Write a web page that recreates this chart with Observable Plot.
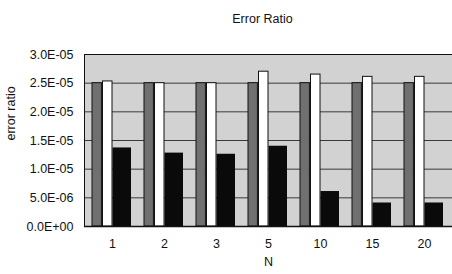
<!DOCTYPE html>
<html>
<head>
<meta charset="utf-8">
<script src="https://cdn.jsdelivr.net/npm/d3@7"></script>
<script src="https://cdn.jsdelivr.net/npm/@observablehq/plot@0.6"></script>
<style>
  body { margin: 0; background: #fff; }
  svg { display: block; }
</style>
</head>
<body>
<div id="chart"></div>
<script>
const title = "Error Ratio";
const xLabel = "N";
const yLabel = "error ratio";
const categories = ["1", "2", "3", "5", "10", "15", "20"];
const seriesGrey  = [2.5e-5, 2.5e-5, 2.5e-5, 2.5e-5, 2.5e-5, 2.5e-5, 2.5e-5];
const seriesWhite = [2.53e-5, 2.5e-5, 2.5e-5, 2.7e-5, 2.65e-5, 2.61e-5, 2.61e-5];
const seriesBlack = [1.37e-5, 1.28e-5, 1.26e-5, 1.40e-5, 6.1e-6, 4.1e-6, 4.1e-6];
const yTicks = [0, 5e-6, 1e-5, 1.5e-5, 2e-5, 2.5e-5, 3e-5];

const rows = categories.map((n, i) => ({n, grey: seriesGrey[i], white: seriesWhite[i], black: seriesBlack[i]}));

function sci(d) {
  if (d === 0) return "0.0E+00";
  const e = Math.floor(Math.log10(Math.abs(d)) + 1e-9);
  const m = d / Math.pow(10, e);
  const s = e < 0 ? "-" : "+";
  return m.toFixed(1) + "E" + s + String(Math.abs(e)).padStart(2, "0");
}

const font = "Liberation Sans, Arial, sans-serif";

const chart = Plot.plot({
  width: 452,
  height: 274,
  marginLeft: 84,
  marginRight: 0,
  marginTop: 54,
  marginBottom: 48,
  style: {fontFamily: font, fontSize: "12.5px", color: "#111", background: "#fff"},
  x: {domain: categories, padding: 0, label: null, tickSize: 0, tickPadding: 13},
  y: {domain: [0, 3e-5], ticks: yTicks, tickFormat: sci, label: null, tickSize: 0, tickPadding: 11},
  marks: [
    Plot.frame({fill: "#d2d2d2", stroke: null}),
    Plot.gridY(yTicks, {stroke: "#3a3a3a", strokeOpacity: 1, strokeWidth: 1}),
    Plot.barY(rows, {x: "n", y: "grey", fill: "#707070", stroke: "#111", strokeWidth: 1, insetLeft: 6, insetRight: 36.6}),
    Plot.barY(rows, {x: "n", y: "white", fill: "#fff", stroke: "#111", strokeWidth: 1, insetLeft: 16.5, insetRight: 26}),
    Plot.barY(rows, {x: "n", y: "black", fill: "#0a0a0a", insetLeft: 26.5, insetRight: 7}),
    Plot.frame({stroke: "#111", strokeWidth: 1}),
    Plot.ruleY([0], {stroke: "#111", strokeWidth: 1.5}),
    Plot.text([title], {frameAnchor: "top", dy: -40, dx: -6, fontSize: 12.5, fill: "#111"}),
    Plot.text([xLabel], {frameAnchor: "bottom", dy: 39, fontSize: 12.5, fill: "#111"}),
    Plot.text([yLabel], {frameAnchor: "left", dx: -74, rotate: -90, fontSize: 12.5, fill: "#111"})
  ]
});
document.getElementById("chart").append(chart);
</script>
</body>
</html>
